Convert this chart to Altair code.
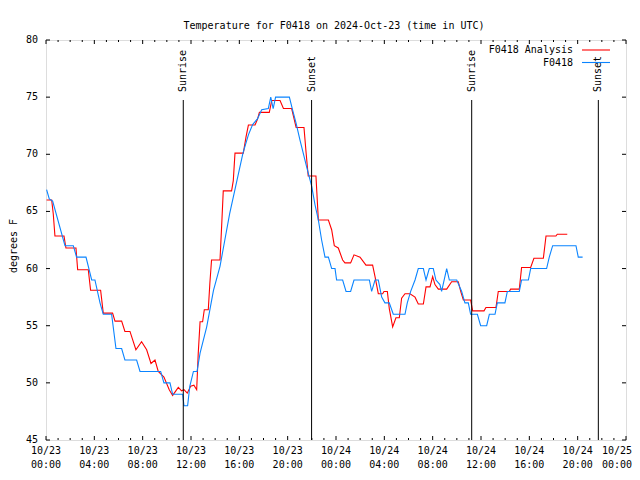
import altair as alt
import pandas as pd

# ---- data (hours since 2024-10-23 00:00 UTC, degrees F) ----
analysis_h = [0.05, 0.47, 0.6, 0.74, 1.49, 1.65, 2.48, 2.62, 3.5, 3.69, 4.52, 4.74, 5.51, 5.71, 6.26, 6.53,
              6.95, 7.44, 7.91, 8.33, 8.69, 9.02, 9.29, 9.76, 10.2, 10.48, 10.95, 11.22, 11.42, 11.69, 11.97,
              12.24, 12.47, 12.6, 12.75, 12.96, 13.1, 13.43, 13.56, 13.7, 14.4, 14.54, 14.67, 15.36, 15.5,
              15.64, 16.33, 16.55, 16.75, 17.3, 17.5, 17.66, 18.48, 18.68, 19.37, 19.65, 20.33, 20.7, 21.35,
              21.52, 21.7, 22.34, 22.54, 23.37, 23.64, 23.86, 24.19, 24.55, 24.74, 25.21, 25.49, 25.99, 26.48,
              27.03, 27.23, 27.5, 27.86, 27.97, 28.25, 28.41, 28.69, 28.96, 29.24, 29.43, 29.71, 30.12, 30.54,
              30.81, 31.23, 31.45, 31.78, 32.0, 32.19, 32.47, 33.16, 33.57, 34.12, 34.32, 34.54, 35.14, 35.31,
              36.25, 36.41, 37.24, 37.43, 38.34, 38.45, 39.17, 39.36, 40.11, 40.38, 41.16, 41.38, 42.2, 42.31,
              43.14]
analysis_t = [66.0, 66.0, 64.8, 62.85, 62.85, 61.8, 61.8, 59.9, 59.9, 58.1, 58.1, 56.1, 56.1, 55.4, 55.4, 54.5,
              54.5, 52.9, 53.6, 52.9, 51.7, 52.0, 51.0, 50.5, 49.4, 48.9, 49.6, 49.3, 49.4, 49.1, 49.7,
              49.8, 49.4, 52.6, 55.35, 55.35, 56.4, 56.4, 58.7, 60.75, 60.75, 63.8, 66.8, 66.8, 67.7,
              70.1, 70.1, 71.5, 72.56, 72.56, 73.06, 73.67, 73.67, 74.7, 74.7, 74.0, 74.0, 72.35, 72.35,
              70.2, 68.1, 68.1, 64.25, 64.25, 63.4, 62.0, 61.8, 60.75, 60.5, 60.5, 61.2, 61.0, 60.3,
              60.3, 59.3, 57.8, 57.8, 58.0, 58.0, 56.5, 54.9, 55.7, 55.7, 57.4, 57.8, 57.8, 57.5,
              56.9, 56.9, 58.4, 58.4, 59.3, 58.6, 58.2, 58.2, 58.85, 58.85, 58.0, 57.25, 57.25, 56.3,
              56.3, 56.6, 56.6, 58.0, 58.0, 58.2, 58.2, 60.1, 60.1, 60.9, 60.9, 62.85, 62.85, 63.0,
              63.0]

station_h = [0.05, 0.27, 0.55, 1.57, 2.26, 2.53, 3.31, 3.78, 4.05, 4.47, 4.74, 5.43, 5.79, 6.26, 6.53, 7.5,
             7.78, 9.49, 9.76, 10.26, 10.48, 11.31, 11.42, 11.72, 11.9, 12.2, 12.5, 12.75, 13.3, 13.86,
             14.4, 14.8, 15.2, 15.8, 16.3, 16.75, 17.1, 17.5, 17.85, 18.4, 18.6, 18.8, 19.0, 20.14, 20.4,
             20.7, 21.02, 21.57, 21.99, 22.26, 22.54, 22.81, 23.09, 23.37, 23.64, 23.92, 24.05, 24.55,
             24.83, 25.21, 25.49, 26.76, 26.95, 27.23, 27.5, 27.78, 28.05, 28.41, 28.74, 29.71, 29.9,
             30.18, 30.54, 30.81, 31.23, 31.45, 31.72, 32.05, 32.27, 32.6, 32.74, 33.16, 33.38, 33.99,
             34.4, 34.67, 34.95, 35.14, 35.7, 35.97, 36.47, 36.69, 37.16, 37.35, 37.98, 38.18, 39.17,
             39.36, 39.92, 40.11, 41.43, 41.65, 41.93, 43.86, 44.05, 44.41]
station_t = [66.9, 66.1, 65.9, 62.0, 62.0, 61.0, 61.0, 59.0, 59.0, 57.0, 56.0, 56.0, 53.0, 53.0, 52.0, 52.0,
             51.0, 51.0, 50.0, 50.0, 49.0, 49.0, 48.0, 48.0, 49.7, 51.0, 51.0, 52.6, 54.9, 58.1,
             60.2, 62.5, 64.8, 67.7, 70.1, 71.7, 72.6, 73.1, 73.9, 74.0, 75.0, 74.0, 75.0, 75.0, 73.9,
             72.7, 71.25, 68.9, 67.2, 65.6, 64.25, 62.5, 61.0, 61.0, 60.0, 60.0, 59.0, 59.0,
             58.0, 58.0, 59.0, 59.0, 58.0, 59.0, 59.0, 57.5, 57.0, 57.0, 56.0, 56.0, 57.0,
             58.0, 59.0, 60.0, 60.0, 59.0, 60.0, 60.0, 59.0, 58.6, 58.0, 60.0, 59.0, 59.0,
             58.0, 57.0, 57.0, 56.0, 56.0, 55.0, 55.0, 56.0, 56.0, 57.0, 57.0, 58.0, 58.0,
             59.0, 59.0, 60.0, 60.0, 61.0, 62.0, 62.0, 61.0, 61.0]

sun_h = [11.36, 21.98, 35.23, 45.71]
sun_label = ["Sunrise", "Sunset", "Sunrise", "Sunset"]

series_names = ["F0418 Analysis", "F0418"]
series_colors = ["#ff0000", "#0a84ff"]

x_major = list(range(0, 49, 4))
x_labels = ["10/23\n00:00", "10/23\n04:00", "10/23\n08:00", "10/23\n12:00", "10/23\n16:00",
            "10/23\n20:00", "10/24\n00:00", "10/24\n04:00", "10/24\n08:00", "10/24\n12:00",
            "10/24\n16:00", "10/24\n20:00", "10/25\n00:00"]
x_minor = [h for h in range(0, 49) if h % 4 != 0]
y_major = list(range(45, 81, 5))

title_text = "Temperature for F0418 on 2024-Oct-23 (time in UTC)"
y_title = "degrees F"

FONT = "DejaVu Sans Mono"
FS = 10
W, H = 580, 400

df = pd.concat([
    pd.DataFrame({"h": analysis_h, "t": analysis_t, "s": series_names[0]}),
    pd.DataFrame({"h": station_h, "t": station_t, "s": series_names[1]}),
])

xs = alt.Scale(domain=[0, 48], nice=False, zero=False)
ys = alt.Scale(domain=[45, 80], nice=False, zero=False)
X = lambda f="h:Q": alt.X(f, scale=xs, axis=None)
Y = lambda f="t:Q": alt.Y(f, scale=ys, axis=None)

lines = alt.Chart(df).mark_line(strokeWidth=1.1, interpolate="linear").encode(
    x=X(), y=Y(),
    color=alt.Color("s:N", scale=alt.Scale(domain=series_names, range=series_colors), legend=None),
    detail="s:N",
)

txt = dict(font=FONT, fontSize=FS, color="black")

# x tick labels (two lines each) below the plot; the last one is kept inside the page
xlab_df = pd.DataFrame({"h": x_major[:-1], "label": x_labels[:-1]})
x_text = alt.Chart(xlab_df).mark_text(align="center", baseline="top", lineBreak="\n", lineHeight=14,
                                      **txt).encode(x=X(), y=alt.value(H + 6), text="label:N")
xlast_df = pd.DataFrame({"h": x_major[-1:], "label": x_labels[-1:]})
x_text_last = alt.Chart(xlast_df).mark_text(align="right", baseline="top", lineBreak="\n", lineHeight=14,
                                            dx=6, **txt).encode(x=X(), y=alt.value(H + 6), text="label:N")

# y tick labels to the left
ylab_df = pd.DataFrame({"t": y_major, "label": [str(v) for v in y_major]})
y_text = alt.Chart(ylab_df).mark_text(align="right", baseline="middle", **txt).encode(
    x=alt.value(-8), y=Y(), text="label:N")

# y title and chart title
ytitle = alt.Chart(pd.DataFrame({"label": [y_title]})).mark_text(
    angle=270, align="center", baseline="middle", **txt).encode(
    x=alt.value(-32), y=alt.value(206), text="label:N")
ctitle = alt.Chart(pd.DataFrame({"label": [title_text]})).mark_text(
    align="center", baseline="middle", **txt).encode(
    x=alt.value(288), y=alt.value(-14), text="label:N")

sun_df = pd.DataFrame({"h": sun_h, "label": sun_label})
sun_rules = alt.Chart(sun_df).mark_rule(color="black", strokeWidth=1).encode(
    x=X(), y=alt.value(60), y2=alt.value(H))
sun_text = alt.Chart(sun_df).mark_text(angle=270, align="left", baseline="middle", **txt).encode(
    x=X(), y=alt.value(52), text="label:N")

# legend (top right, inside the plot)
legend_layers = []
for name, col, ypos in zip(series_names, series_colors, [10, 22.5]):
    one = pd.DataFrame({"name": [name]})
    legend_layers.append(alt.Chart(one).mark_text(align="right", baseline="middle", **txt).encode(
        x=alt.value(527), y=alt.value(ypos), text="name:N"))
    legend_layers.append(alt.Chart(one).mark_rule(strokeWidth=1.1, color=col).encode(
        x=alt.value(536), x2=alt.value(564), y=alt.value(ypos)))

# inward ticks on all four sides
xmaj = pd.DataFrame({"h": x_major})
xmin = pd.DataFrame({"h": x_minor})
ymaj = pd.DataFrame({"t": y_major})
tick_layers = [
    alt.Chart(xmaj).mark_rule(color="black").encode(x=X(), y=alt.value(H), y2=alt.value(H - 4)),
    alt.Chart(xmaj).mark_rule(color="black").encode(x=X(), y=alt.value(0), y2=alt.value(4)),
    alt.Chart(xmin).mark_rule(color="black").encode(x=X(), y=alt.value(H), y2=alt.value(H - 2)),
    alt.Chart(xmin).mark_rule(color="black").encode(x=X(), y=alt.value(0), y2=alt.value(2)),
    alt.Chart(ymaj).mark_rule(color="black").encode(y=Y(), x=alt.value(0), x2=alt.value(4)),
    alt.Chart(ymaj).mark_rule(color="black").encode(y=Y(), x=alt.value(W), x2=alt.value(W - 4)),
]

chart = alt.layer(lines, x_text, x_text_last, y_text, ytitle, ctitle, sun_rules, sun_text,
                  *legend_layers, *tick_layers).properties(
    width=W, height=H,
    padding={"left": 38, "top": 32, "right": 6, "bottom": 32},
    autosize=alt.AutoSizeParams(type="none"),
).configure_view(stroke="black", strokeWidth=1).configure(background="white")

chart.save("out.html", embed_options={"renderer": "svg", "actions": False})
